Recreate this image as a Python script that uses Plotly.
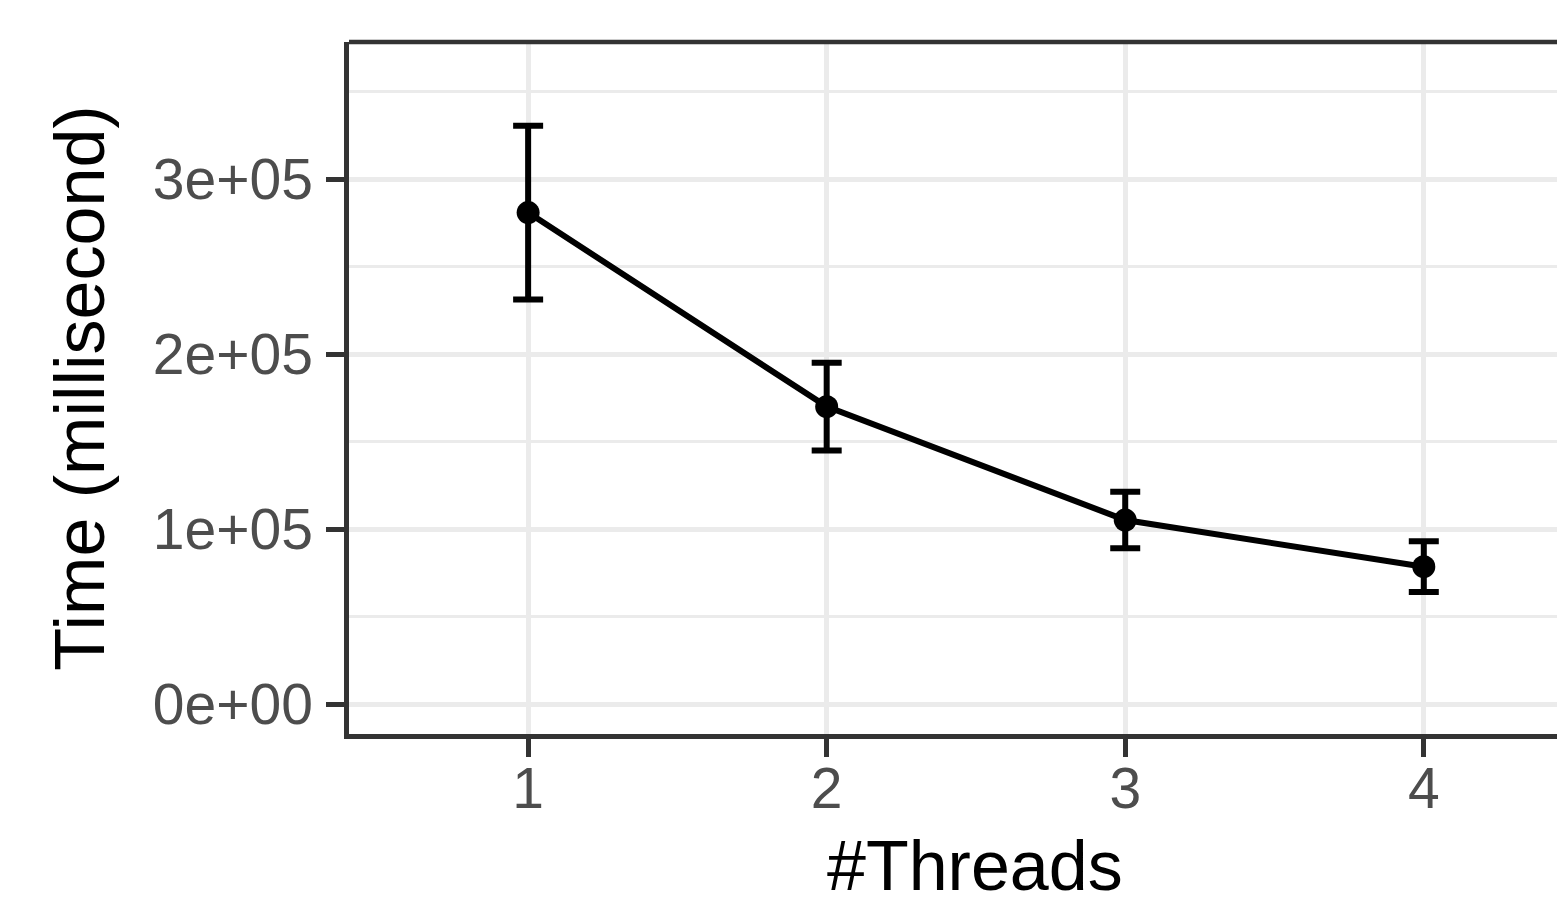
import plotly.graph_objects as go

threads = [1, 2, 3, 4]
tick_text = ["1", "2", "3", "4"]
time_mean = [281000, 170100, 105300, 78600]
time_err = [49700, 25100, 16200, 14500]

y_ticks = [0, 100000, 200000, 300000]
y_tick_text = ["0e+00", "1e+05", "2e+05", "3e+05"]

x_title = "#Threads"
y_title = "Time (millisecond)"

FONT = "Liberation Sans, Arial, Helvetica, sans-serif"

fig = go.Figure()
fig.add_trace(go.Scatter(
    x=threads, y=time_mean,
    mode="lines+markers",
    line=dict(color="black", width=6),
    marker=dict(color="black", size=23),
    error_y=dict(type="data", array=time_err, visible=True,
                 color="black", thickness=6, width=15),
    showlegend=False,
))

# page has an 8px body margin, so the figure is 8px smaller than the window
fig.update_layout(
    width=1557, height=889,
    margin=dict(l=341, r=0, t=34, b=163),
    paper_bgcolor="white", plot_bgcolor="white",
    font=dict(family=FONT),
    xaxis=dict(
        range=[0.4, 4.473],
        tickvals=threads, ticktext=tick_text,
        showgrid=True, gridcolor="#EBEBEB", gridwidth=4.5,
        showline=True, linecolor="#333333", linewidth=4.5,
        ticks="outside", ticklen=18, tickwidth=4.5, tickcolor="#333333",
        tickfont=dict(size=57, color="#4D4D4D", family=FONT),
        ticklabelstandoff=-17,
        automargin=False,
        zeroline=False,
    ),
    yaxis=dict(
        range=[-17000, 378500],
        tickvals=y_ticks, ticktext=y_tick_text,
        showgrid=True, gridcolor="#EBEBEB", gridwidth=4.5,
        minor=dict(tickvals=[50000, 150000, 250000, 350000], showgrid=True,
                   gridcolor="#EBEBEB", gridwidth=2.5, ticks=""),
        showline=True, linecolor="#333333", linewidth=4.5,
        ticks="outside", ticklen=18, tickwidth=4.5, tickcolor="#333333",
        tickfont=dict(size=57, color="#4D4D4D", family=FONT),
        ticklabelstandoff=2,
        automargin=False,
        title=dict(text=y_title, font=dict(size=70, color="black", family=FONT), standoff=27),
        zeroline=False,
    ),
    annotations=[dict(
        text=x_title, xref="paper", yref="paper", x=0.5148, y=0,
        xanchor="center", yanchor="middle", yshift=-132, showarrow=False,
        font=dict(size=70, color="black", family=FONT),
    )],
    shapes=[dict(type="line", xref="paper", yref="paper", x0=0, x1=1, y0=1, y1=1,
                 line=dict(color="#333333", width=4.5))],
)

fig.write_html("out.html")
